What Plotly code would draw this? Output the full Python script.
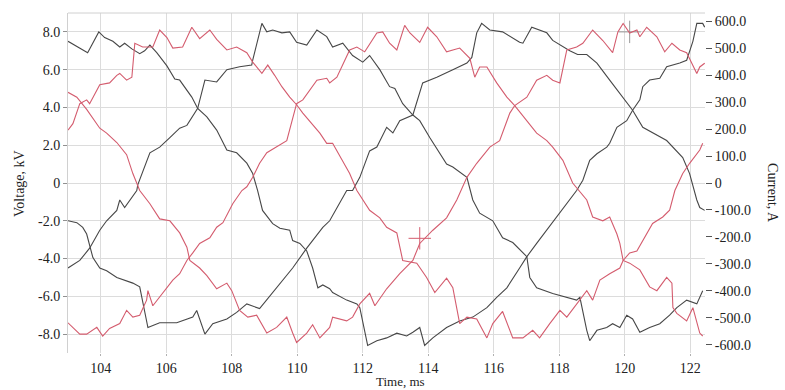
import plotly.graph_objects as go

# ---------------- data ----------------
# Black traces: voltages (kV, left axis)
b1_t = [103.0, 103.6, 103.94, 104.12, 104.37, 104.58, 104.73, 104.95, 105.19, 105.34, 105.5, 105.71,
        106.02, 106.26, 106.41, 106.63, 106.78, 106.96, 107.24, 107.54, 107.85, 108.15, 108.46, 108.64,
        108.79, 108.94, 109.25, 109.47, 109.77, 109.86, 110.08, 110.29, 110.47, 110.63, 110.78, 110.99,
        111.08, 111.51, 111.82, 111.91, 112.15, 112.43, 112.73, 113.04, 113.34, 113.53, 113.74, 113.89,
        114.14, 114.56, 114.96, 115.36, 115.79, 116.09, 116.4, 116.79, 117.01, 117.31, 117.62, 117.92,
        118.23, 118.53, 118.72, 118.93, 119.15, 119.45, 119.54, 119.76, 120.06, 120.24, 120.46, 120.55,
        120.76, 121.07, 121.28, 121.68, 121.89, 122.08, 122.2, 122.38, 122.44]
b1_v = [7.5, 6.9, 8.0, 7.7, 7.5, 7.2, 7.4, 7.1, 6.85, 7.0, 7.3, 6.9,
        6.2, 5.5, 5.45, 4.9, 4.55, 3.95, 3.5, 2.8, 1.75, 1.6, 1.05, 0.5,
        -0.4, -1.45, -2.15, -2.4, -2.5, -3.05, -3.2, -3.6, -4.5, -5.55, -5.4, -5.6,
        -5.8, -6.2, -6.4, -6.6, -8.6, -8.35, -8.2, -7.95, -8.1, -7.9, -7.65, -8.6,
        -8.2, -7.65, -7.3, -7.1, -6.6, -6.05, -5.55, -4.5, -3.9, -3.2, -2.5, -1.8,
        -1.08, -0.4, 0.15, 1.2, 1.55, 1.9, 2.1, 2.95, 3.3, 3.85, 4.4, 5.1,
        5.45, 5.55, 6.15, 6.35, 6.5, 7.5, 8.45, 8.45, 8.25]

b2_t = [103.0, 103.27, 103.45, 103.57, 103.76, 103.97, 104.18, 104.49, 104.98, 105.19, 105.44, 105.8,
        106.32, 106.81, 106.93, 107.18, 107.42, 107.85, 108.15, 108.46, 108.85, 109.37, 109.86, 110.29,
        110.78, 110.99, 111.21, 111.51, 111.69, 111.91, 112.21, 112.43, 112.73, 112.92, 113.13, 113.44,
        113.53, 113.83, 114.26, 114.75, 115.18, 115.33, 115.48, 115.63, 115.88, 116.27, 116.79, 116.89,
        117.16, 117.62, 117.8, 118.32, 118.56, 118.84, 119.15, 119.54, 119.85, 120.24, 120.55, 120.85,
        121.28, 121.77, 121.98, 122.2, 122.29, 122.44]
b2_v = [-2.0, -2.1, -2.35, -2.7, -3.95, -4.5, -4.65, -5.0, -5.3, -5.5, -7.65, -7.4,
        -7.4, -7.1, -6.75, -8.0, -7.45, -7.2, -6.85, -6.4, -6.65, -5.55, -4.5, -3.45,
        -2.35, -2.0, -1.3, -0.4, -0.4, 0.3, 1.7, 1.9, 2.95, 2.65, 3.3, 3.5,
        3.6, 5.3, 5.6, 6.0, 6.35, 6.65, 7.95, 8.45, 8.1, 8.0, 7.45, 7.4,
        8.25, 7.95, 7.55, 7.0, 6.8, 6.8, 6.35, 5.45, 4.75, 3.85, 2.95, 2.65,
        2.25, 1.35, 0.5, -0.9, -1.3, -1.45]

b3_t = [103.0, 103.36, 103.66, 103.97, 104.18, 104.49, 104.58, 104.73, 105.1, 105.13, 105.5, 105.8,
        106.11, 106.41, 106.63, 106.96, 107.18, 107.54, 107.85, 108.24, 108.61, 108.64, 108.92, 109.07,
        109.25, 109.53, 109.77, 109.98, 110.29, 110.6, 110.9, 111.08, 111.39, 111.69, 112.0, 112.21,
        112.52, 112.82, 112.98, 113.22, 113.53, 113.74, 114.05, 114.56, 114.75, 115.18, 115.36, 115.57,
        115.97, 116.27, 116.58, 117.01, 117.1, 117.31, 117.8, 118.23, 118.53, 118.63, 118.84, 118.93,
        119.15, 119.45, 119.63, 119.85, 120.06, 120.24, 120.46, 120.76, 121.07, 121.37, 121.59, 121.89,
        122.2, 122.38]
b3_v = [-4.5, -4.1, -3.45, -2.5, -2.0, -1.45, -0.9, -1.3, -0.4, -0.1, 1.6, 1.9,
        2.4, 2.9, 3.05, 3.95, 5.45, 5.35, 6.0, 6.15, 6.25, 6.5, 8.45, 8.0,
        8.1, 7.95, 8.0, 7.45, 7.3, 8.1, 7.75, 7.2, 7.4, 6.75, 6.4, 6.75,
        6.0, 5.1, 5.0, 4.2, 3.6, 3.3, 2.4, 1.0, 0.85, 0.3, -0.9, -1.6,
        -2.0, -2.9, -3.15, -3.9, -5.0, -5.55, -5.85, -6.05, -6.2, -6.05, -7.8, -8.35,
        -7.8, -7.65, -7.45, -7.65, -7.0, -7.2, -7.9, -7.65, -7.45, -7.0, -6.6, -6.2,
        -6.4, -5.7]

# Red traces: currents (A, right axis)
r1_t = [103.0, 103.15, 103.36, 103.57, 103.66, 103.97, 104.27, 104.49, 104.58, 104.79, 104.95, 105.04,
        105.28, 105.59, 105.8, 106.02, 106.2, 106.5, 106.78, 107.02, 107.33, 107.54, 107.85, 108.15,
        108.46, 108.64, 108.92, 109.1, 109.31, 109.53, 109.77, 109.98, 110.17, 110.44, 110.69, 110.9,
        111.08, 111.6, 111.82, 112.21, 112.52, 112.73, 113.04, 113.22, 113.65, 113.95, 114.2, 114.56,
        114.75, 114.96, 115.18, 115.48, 115.79, 115.97, 116.27, 116.58, 116.89, 117.19, 117.4, 117.71,
        118.02, 118.23, 118.53, 118.84, 119.02, 119.24, 119.54, 119.85, 119.95, 120.15, 120.37, 120.55,
        120.85, 121.16, 121.37, 121.53, 121.77, 121.98, 122.29, 122.38]
r1_a = [196, 220, 294, 308, 294, 364, 371, 399, 406, 381, 392, 518,
        504, 504, 567, 539, 500, 504, 577, 535, 567, 532, 493, 504,
        483, 448, 406, 437, 399, 357, 318, 290, 259, 220, 185, 147,
        147, 35, -28, -101, -129, -164, -185, -287, -297, -350, -406, -353,
        -388, -521, -497, -504, -574, -521, -476, -574, -574, -546, -574, -521,
        -472, -497, -448, -399, -434, -360, -336, -315, -287, -259, -252, -213,
        -150, -126, -101, -28, 35, 73, 122, 147]

r2_t = [103.0, 103.27, 103.57, 103.97, 104.18, 104.49, 104.79, 104.98, 105.19, 105.5, 105.8, 106.11,
        106.41, 106.63, 106.72, 107.02, 107.24, 107.54, 107.85, 108.0, 108.24, 108.49, 108.76, 109.07,
        109.37, 109.68, 109.86, 109.98, 110.29, 110.47, 110.69, 110.99, 111.08, 111.51, 111.69, 111.91,
        112.21, 112.37, 112.73, 113.13, 113.53, 113.74, 114.14, 114.56, 114.87, 115.18, 115.48, 115.88,
        116.18, 116.49, 116.64, 117.01, 117.31, 117.62, 117.8, 118.02, 118.23, 118.53, 118.72, 119.02,
        119.33, 119.63, 119.79, 119.95, 120.15, 120.37, 120.46, 120.67, 120.98, 121.22, 121.44, 121.68,
        121.89, 122.05, 122.2, 122.29, 122.44]
r2_a = [336, 318, 273, 203, 185, 150, 105, 35, -28, -77, -133, -140,
        -185, -238, -287, -315, -343, -392, -371, -399, -472, -497, -490, -556,
        -535, -497, -556, -591, -556, -525, -574, -535, -497, -511, -497, -448,
        -409, -455, -392, -336, -287, -224, -175, -129, -63, 21, 73, 133,
        157, 259, 287, 318, 381, 399, 381, 371, 493, 504, 518, 567,
        528, 483, 560, 591, 556, 567, 542, 577, 542, 486, 518, 493,
        483, 444, 406, 430, 444]

r3_t = [103.0, 103.36, 103.57, 103.88, 104.06, 104.27, 104.58, 104.79, 104.98, 105.19, 105.4, 105.44,
        105.59, 105.89, 106.2, 106.41, 106.63, 106.81, 107.02, 107.33, 107.54, 107.73, 108.03, 108.31,
        108.46, 108.64, 108.85, 109.07, 109.37, 109.68, 109.98, 110.17, 110.6, 110.9, 110.99, 111.21,
        111.6, 111.82, 112.06, 112.43, 112.61, 112.82, 113.04, 113.28, 113.44, 113.74, 113.98, 114.26,
        114.56, 114.96, 115.27, 115.42, 115.57, 115.79, 116.09, 116.4, 116.64, 117.01, 117.31, 117.62,
        117.8, 118.11, 118.41, 118.84, 119.02, 119.33, 119.54, 119.76, 119.85, 119.95, 120.15, 120.46,
        120.76, 120.98, 121.28, 121.44, 121.47, 121.59, 121.89, 122.08, 122.29, 122.38]
r3_a = [-518, -560, -560, -535, -567, -539, -521, -472, -497, -490, -434, -399,
        -455, -409, -360, -336, -287, -259, -224, -203, -164, -147, -77, -28,
        -14, 21, 73, 112, 133, 157, 294, 308, 381, 388, 371, 392,
        493, 504, 486, 556, 560, 518, 493, 584, 556, 521, 577, 542,
        486, 500, 462, 392, 430, 430, 371, 318, 287, 231, 185, 157,
        133, 84, 0, -63, -126, -140, -126, -189, -224, -287, -297, -322,
        -385, -399, -350, -371, -462, -483, -511, -462, -556, -567]

# cursor marks
cursor_red = (113.74, -205)   # A
cursor_gray = (120.15, 8.0)   # kV

x_ticks = [104, 106, 108, 110, 112, 114, 116, 118, 120, 122]
v_ticks = [-8, -6, -4, -2, 0, 2, 4, 6, 8]
v_labels = ["-8.0", "-6.0", "-4.0", "-2.0", "0", "2.0", "4.0", "6.0", "8.0"]
i_ticks = [-600, -500, -400, -300, -200, -100, 0, 100, 200, 300, 400, 500, 600]
i_labels = ["-600.0", "-500.0", "-400.0", "-300.0", "-200.0", "-100.0", "0",
            "100.0", "200.0", "300.0", "400.0", "500.0", "600.0"]

# ---------------- figure ----------------
BLACK = "#474747"
RED = "#d45c6e"
FONT = "Liberation Serif"

fig = go.Figure()
for t, v in [(b1_t, b1_v), (b2_t, b2_v), (b3_t, b3_v)]:
    fig.add_trace(go.Scatter(x=t, y=v, mode="lines", line=dict(color=BLACK, width=1.1),
                             showlegend=False, hoverinfo="skip"))
for t, a in [(r1_t, r1_a), (r2_t, r2_a), (r3_t, r3_a)]:
    fig.add_trace(go.Scatter(x=t, y=a, mode="lines", line=dict(color=RED, width=1.1),
                             yaxis="y2", showlegend=False, hoverinfo="skip"))

fig.add_trace(go.Scatter(x=[cursor_red[0]], y=[cursor_red[1]], mode="markers", yaxis="y2",
                         marker=dict(symbol="cross-thin", size=16, line=dict(color=RED, width=1)),
                         showlegend=False, hoverinfo="skip"))
fig.add_trace(go.Scatter(x=[cursor_gray[0]], y=[cursor_gray[1]], mode="markers",
                         marker=dict(symbol="cross-thin", size=16, line=dict(color="#999999", width=1)),
                         showlegend=False, hoverinfo="skip"))

fig.update_layout(
    width=785, height=390,
    margin=dict(l=68, r=80, t=13, b=37),
    paper_bgcolor="white", plot_bgcolor="white",
    font=dict(family=FONT, size=14, color="#222222"),
    xaxis=dict(range=[103.0, 122.45], tickvals=x_ticks, showgrid=True, gridcolor="#dcdcdc",
               gridwidth=1, zeroline=False, showline=False, ticks="outside", ticklen=2,
               tickcolor="#b0b0b0", tickfont=dict(size=14, family=FONT), automargin=False),
    yaxis=dict(range=[-9, 9], tickvals=v_ticks, ticktext=v_labels, showgrid=True,
               gridcolor="#dcdcdc", gridwidth=1, zeroline=False, showline=True,
               linecolor="#d0d0d0", linewidth=1, ticks="outside", ticklen=4,
               tickcolor="#909090", tickfont=dict(size=14, family=FONT), automargin=False),
    yaxis2=dict(range=[-630, 630], overlaying="y", side="right", tickvals=i_ticks,
                ticktext=i_labels, showgrid=False, zeroline=False, showline=False,
                ticks="outside", ticklen=6, tickcolor="#555555",
                tickfont=dict(size=14, family=FONT), automargin=False),
    shapes=[dict(type="line", xref="paper", yref="paper", x0=0, x1=1, y0=1, y1=1,
                 line=dict(color="#d0d0d0", width=1))],
    annotations=[
        dict(text="Voltage, kV", xref="paper", yref="paper", x=-0.077, y=0.5, textangle=-90,
             showarrow=False, font=dict(size=14, family=FONT, color="#222222"),
             xanchor="center", yanchor="middle"),
        dict(text="Current, A", xref="paper", yref="paper", x=1.107, y=0.47, textangle=90,
             showarrow=False, font=dict(size=14, family=FONT, color="#222222"),
             xanchor="center", yanchor="middle"),
        dict(text="Time, ms", xref="paper", yref="paper", x=0.522, y=-0.083,
             showarrow=False, font=dict(size=13, family=FONT, color="#222222"),
             xanchor="center", yanchor="middle"),
    ],
)

fig.write_html("out.html", config={"displayModeBar": False},
               post_script="document.body.style.margin='0';")
